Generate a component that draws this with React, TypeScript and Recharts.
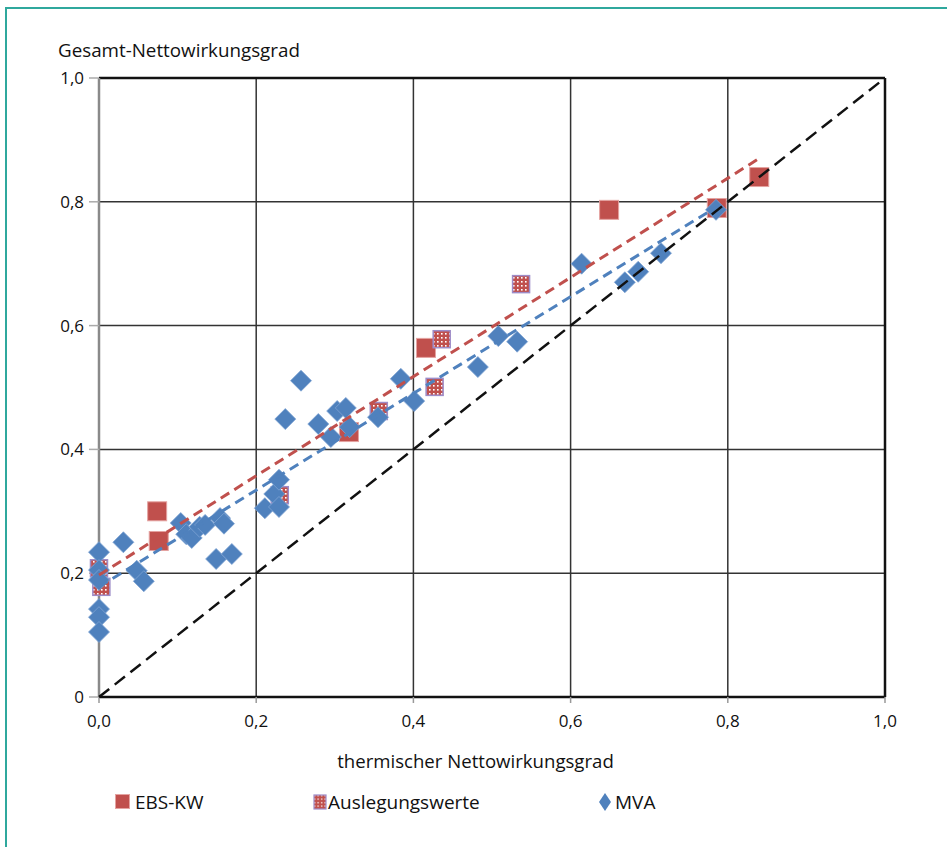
import { ScatterChart, Scatter, XAxis, YAxis, CartesianGrid, ReferenceLine } from "recharts"

// EBS-KW (Ist-Werte)
const ebsKw = [
  { x: 0.074, y: 0.3 },
  { x: 0.076, y: 0.252 },
  { x: 0.318, y: 0.428 },
  { x: 0.416, y: 0.564 },
  { x: 0.649, y: 0.787 },
  { x: 0.786, y: 0.79 },
  { x: 0.84, y: 0.84 },
]

// Auslegungswerte
const auslegung = [
  { x: 0.0, y: 0.208 },
  { x: 0.003, y: 0.178 },
  { x: 0.23, y: 0.326 },
  { x: 0.356, y: 0.462 },
  { x: 0.436, y: 0.578 },
  { x: 0.427, y: 0.501 },
  { x: 0.537, y: 0.667 },
]

// MVA
const mva = [
  { x: 0.0, y: 0.234 },
  { x: 0.0, y: 0.205 },
  { x: 0.0, y: 0.189 },
  { x: 0.0, y: 0.142 },
  { x: 0.0, y: 0.129 },
  { x: 0.0, y: 0.105 },
  { x: 0.031, y: 0.25 },
  { x: 0.048, y: 0.204 },
  { x: 0.057, y: 0.187 },
  { x: 0.104, y: 0.281 },
  { x: 0.111, y: 0.263 },
  { x: 0.118, y: 0.257 },
  { x: 0.128, y: 0.275 },
  { x: 0.135, y: 0.278 },
  { x: 0.149, y: 0.223 },
  { x: 0.154, y: 0.289 },
  { x: 0.159, y: 0.28 },
  { x: 0.169, y: 0.231 },
  { x: 0.211, y: 0.305 },
  { x: 0.223, y: 0.328 },
  { x: 0.229, y: 0.351 },
  { x: 0.229, y: 0.307 },
  { x: 0.237, y: 0.449 },
  { x: 0.257, y: 0.511 },
  { x: 0.279, y: 0.441 },
  { x: 0.295, y: 0.42 },
  { x: 0.303, y: 0.462 },
  { x: 0.314, y: 0.467 },
  { x: 0.319, y: 0.436 },
  { x: 0.355, y: 0.452 },
  { x: 0.384, y: 0.514 },
  { x: 0.401, y: 0.478 },
  { x: 0.482, y: 0.533 },
  { x: 0.508, y: 0.583 },
  { x: 0.532, y: 0.574 },
  { x: 0.614, y: 0.7 },
  { x: 0.669, y: 0.67 },
  { x: 0.686, y: 0.687 },
  { x: 0.715, y: 0.717 },
  { x: 0.785, y: 0.787 },
]

// Trendlinien (Endpunkte) und Diagonale
const ebsTrend = [
  { x: 0.0, y: 0.197 },
  { x: 0.841, y: 0.871 },
]
const mvaTrend = [
  { x: 0.0, y: 0.178 },
  { x: 0.786, y: 0.792 },
]
const diagonal = [
  { x: 0, y: 0 },
  { x: 1, y: 1 },
]

const ticks = [0, 0.2, 0.4, 0.6, 0.8, 1.0]

const RED = "#c0504d"
const BLUE = "#4f81bd"
const FONT = "'Open Sans', 'Noto Sans', sans-serif"

const fmtX = (v: number) => v.toFixed(1).replace(".", ",")
const fmtY = (v: number) => (v === 0 ? "0" : v.toFixed(1).replace(".", ","))

const RedSquare = (p: any) => {
  if (p.cx == null) return <g />
  return <rect x={p.cx - 9.5} y={p.cy - 9.5} width={19} height={19} fill={RED} stroke="#e4a3a1" strokeWidth={1} />
}

const DotSquare = (p: any) => {
  if (p.cx == null) return <g />
  return <rect x={p.cx - 8.5} y={p.cy - 8.5} width={17} height={17} fill="url(#dots)" stroke="#9d8cc8" strokeWidth={1.5} />
}

const Diamond = (p: any) => {
  if (p.cx == null) return <g />
  const r = 10.5
  return (
    <path
      d={`M${p.cx},${p.cy - r} L${p.cx + r},${p.cy} L${p.cx},${p.cy + r} L${p.cx - r},${p.cy} Z`}
      fill={BLUE}
      stroke="#7fa3d3"
      strokeWidth={0.8}
    />
  )
}

const NoShape = () => <g />

const tickStyle = { fill: "#111", fontSize: 17, fontFamily: FONT }

export default function App() {
  return (
    <div style={{ position: "absolute", left: 0, top: 0, width: 947, height: 847, background: "#fff", overflow: "hidden" }}>
      <div
        style={{
          position: "absolute",
          left: 5,
          top: 7,
          width: 1000,
          height: 900,
          borderLeft: "2px solid #2fa89d",
          borderTop: "2px solid #2fa89d",
        }}
      />
      <div style={{ position: "absolute", left: 58, top: 37, fontFamily: FONT, fontSize: 18.8, color: "#111" }}>
        Gesamt-Nettowirkungsgrad
      </div>
      <div style={{ position: "absolute", left: 0, width: 947, top: 748, textAlign: "center", fontFamily: FONT, fontSize: 18.6, color: "#111" }}>
        <span style={{ position: "relative", left: 2 }}>thermischer Nettowirkungsgrad</span>
      </div>

      <ScatterChart width={947} height={847} margin={{ top: 78, right: 62, bottom: 110, left: 39 }}>
        <defs>
          <pattern id="dots" width="4" height="4" patternUnits="userSpaceOnUse">
            <rect width="4" height="4" fill={RED} />
            <rect x="1" y="1" width="1.6" height="1.6" fill="#fff" />
          </pattern>
        </defs>
        <CartesianGrid stroke="#333" strokeWidth={1.5} horizontalValues={ticks} verticalValues={ticks} />
        <XAxis
          type="number"
          dataKey="x"
          domain={[0, 1]}
          ticks={ticks}
          tickFormatter={fmtX}
          height={40}
          tick={tickStyle}
          tickSize={6}
          tickMargin={12}
          axisLine={{ stroke: "#111", strokeWidth: 2.5 }}
          tickLine={{ stroke: "#999", strokeWidth: 1.5 }}
        />
        <YAxis
          type="number"
          dataKey="y"
          domain={[0, 1]}
          ticks={ticks}
          tickFormatter={fmtY}
          width={60}
          tick={tickStyle}
          tickSize={10}
          tickMargin={5}
          axisLine={{ stroke: "#8a8a8a", strokeWidth: 2.5 }}
          tickLine={{ stroke: "#aaa", strokeWidth: 1.5 }}
        />
        <ReferenceLine y={1} stroke="#111" strokeWidth={2.5} />
        <ReferenceLine x={1} stroke="#111" strokeWidth={2.5} />
        <Scatter data={ebsKw} shape={RedSquare} isAnimationActive={false} />
        <Scatter data={auslegung} shape={DotSquare} isAnimationActive={false} />
        <Scatter data={mva} shape={Diamond} isAnimationActive={false} />
        <Scatter
          data={diagonal}
          shape={NoShape}
          line={{ stroke: "#111", strokeWidth: 2.5, strokeDasharray: "13 7" }}
          isAnimationActive={false}
        />
        <Scatter
          data={ebsTrend}
          shape={NoShape}
          line={{ stroke: RED, strokeWidth: 3, strokeDasharray: "10 6" }}
          isAnimationActive={false}
        />
        <Scatter
          data={mvaTrend}
          shape={NoShape}
          line={{ stroke: BLUE, strokeWidth: 3, strokeDasharray: "10 6" }}
          isAnimationActive={false}
        />
      </ScatterChart>

      <div style={{ position: "absolute", top: 789, left: 0, width: 947, height: 26, fontFamily: FONT, fontSize: 19, color: "#111" }}>
        <div style={{ position: "absolute", left: 115, top: 5, width: 15, height: 15, background: RED, border: "1px solid #e4a3a1", boxSizing: "border-box" }} />
        <span style={{ position: "absolute", left: 135, top: 0 }}>EBS-KW</span>
        <svg style={{ position: "absolute", left: 313, top: 5 }} width={14} height={16}>
          <defs>
            <pattern id="dotsL" width="3.5" height="3.5" patternUnits="userSpaceOnUse">
              <rect width="3.5" height="3.5" fill={RED} />
              <rect x="1" y="1" width="1.3" height="1.3" fill="#fff" />
            </pattern>
          </defs>
          <rect x={1} y={1} width={12} height={14} fill="url(#dotsL)" stroke="#9d8cc8" strokeWidth={1.2} />
        </svg>
        <span style={{ position: "absolute", left: 328, top: 0 }}>Auslegungswerte</span>
        <svg style={{ position: "absolute", left: 598, top: 3 }} width={14} height={20}>
          <path d="M7,1 L13,10 L7,19 L1,10 Z" fill={BLUE} />
        </svg>
        <span style={{ position: "absolute", left: 615, top: 0 }}>MVA</span>
      </div>
    </div>
  )
}
